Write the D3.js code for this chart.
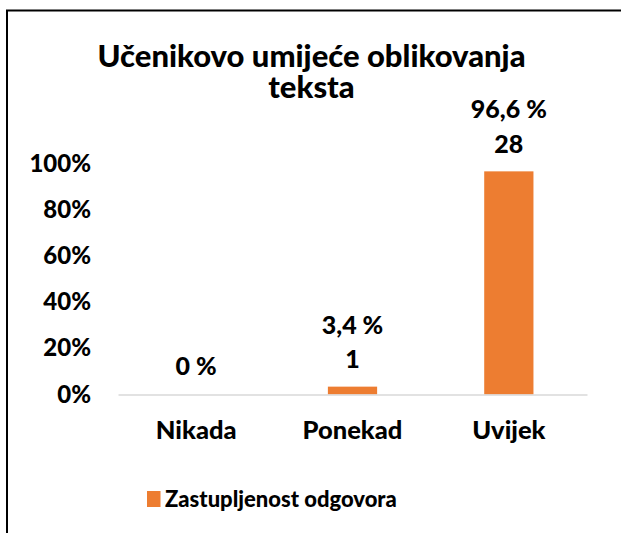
<!DOCTYPE html>
<html>
<head>
<meta charset="utf-8">
<script src="https://cdn.jsdelivr.net/npm/d3@7"></script>
<style>
  body { margin: 0; background: #fff; }
  text { font-family: Lato, "Open Sans", sans-serif; font-weight: 900; fill: #000; }
</style>
</head>
<body>
<svg id="chart" width="621" height="533"></svg>
<script>
// data
const categories = ['Nikada', 'Ponekad', 'Uvijek'];
const shares = [0, 3.4, 96.6];     // percent
const counts = [0, 1, 28];
const yTicks = [0, 20, 40, 60, 80, 100];
const titleLines = ['Učenikovo umijeće oblikovanja', 'teksta'];
const seriesName = 'Zastupljenost odgovora';

const W = 621, H = 533;
const margin = {top: 163.5, right: 34, bottom: 138.5, left: 118};
const width = W - margin.left - margin.right;
const height = H - margin.top - margin.bottom;
const orange = '#ED7D31';

const svg = d3.select('#chart');
svg.append('rect').attr('width', W).attr('height', H).attr('fill', '#fff');

// frame (only top and left edges are in view)
svg.append('path')
  .attr('d', 'M7,533 V10.5 H621')
  .attr('fill', 'none').attr('stroke', '#000').attr('stroke-width', 2);

// title, wrapped over two lines
svg.append('text')
  .attr('text-anchor', 'middle')
  .style('font-size', '31px')
  .selectAll('tspan')
  .data(titleLines).enter().append('tspan')
  .attr('x', 311.5)
  .attr('y', (d, i) => 66.5 + i * 31)
  .text(d => d);

const g = svg.append('g').attr('transform', 'translate(' + margin.left + ',' + margin.top + ')');

const x = d3.scaleBand().domain(categories).range([0, width]).paddingInner(0.685).paddingOuter(0.3425);
const y = d3.scaleLinear().domain([0, 100]).range([height, 0]);

// y axis labels only
const yAxis = g.append('g')
  .call(d3.axisLeft(y).tickValues(yTicks).tickSize(0).tickPadding(27).tickFormat(d => d + '%'));
yAxis.select('.domain').remove();
yAxis.selectAll('text').style('font-size', '24px').attr('font-family', null);

// bars
g.selectAll('rect.bar')
  .data(categories).enter().append('rect')
  .attr('class', 'bar')
  .attr('x', d => x(d))
  .attr('width', x.bandwidth())
  .attr('y', (d, i) => y(shares[i]))
  .attr('height', (d, i) => height - y(shares[i]))
  .attr('fill', orange);

// x axis
const xAxis = g.append('g')
  .attr('transform', 'translate(0,' + height + ')')
  .call(d3.axisBottom(x).tickSize(0).tickPadding(26));
xAxis.select('.domain').attr('stroke', '#d9d9d9').attr('stroke-width', 1.5);
xAxis.selectAll('text').style('font-size', '25.5px').attr('font-family', null);

// data labels
const fmt = v => String(v).replace('.', ',') + ' %';
const labels = g.selectAll('g.lab')
  .data(categories).enter().append('g')
  .attr('class', 'lab')
  .attr('transform', (d, i) => 'translate(' + (x(d) + x.bandwidth() / 2) + ',' + y(shares[i]) + ')');
labels.append('text')
  .attr('text-anchor', 'middle')
  .attr('y', (d, i) => counts[i] ? -53 : -19.5)
  .style('font-size', '25px')
  .text((d, i) => fmt(shares[i]));
labels.filter((d, i) => counts[i] > 0).append('text')
  .attr('text-anchor', 'middle')
  .attr('y', -18.5)
  .style('font-size', '25px')
  .text(d => counts[categories.indexOf(d)]);

// legend
const leg = svg.append('g').attr('transform', 'translate(147,491)');
leg.append('rect').attr('width', 13.5).attr('height', 16).attr('fill', orange);
leg.append('text').attr('x', 18).attr('y', 15.5).style('font-size', '22px').text(seriesName);
</script>
</body>
</html>
